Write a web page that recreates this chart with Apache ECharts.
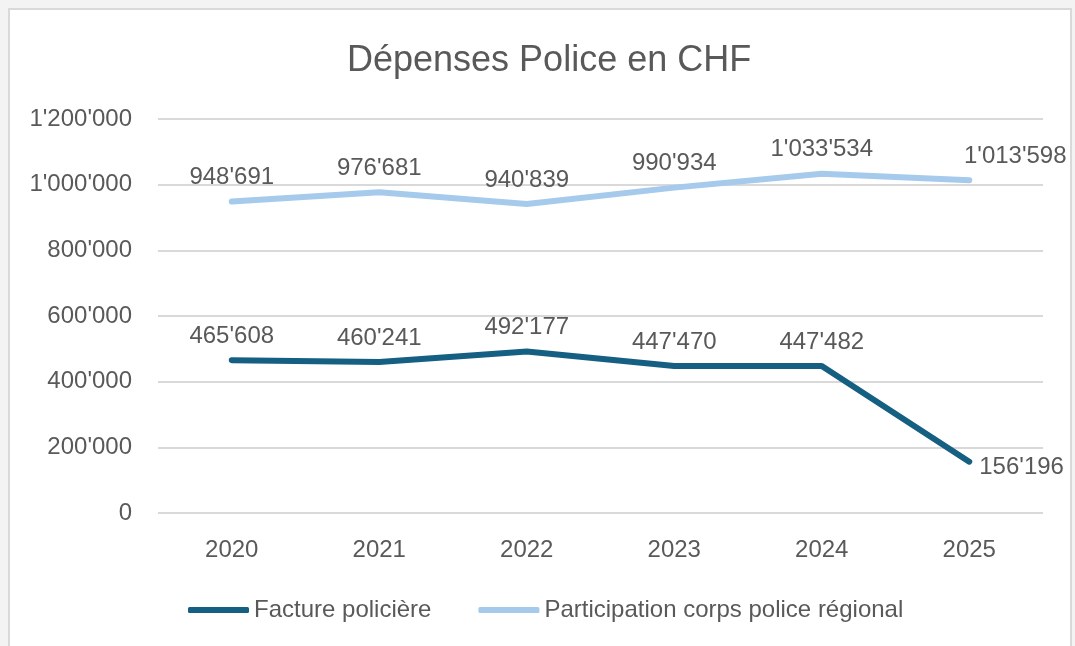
<!DOCTYPE html>
<html>
<head>
<meta charset="utf-8">
<script src="https://cdn.jsdelivr.net/npm/echarts@6/dist/echarts.min.js"></script>
<style>
  html, body { margin: 0; padding: 0; background: #f3f3f3; }
  #frame {
    position: absolute; left: 8px; top: 8px;
    width: 1060px; height: 660px;
    background: #ffffff; border: 2px solid #d9d9d9;
  }
  #chart { position: absolute; left: 0; top: 0; width: 1075px; height: 646px; }
</style>
</head>
<body>
<div id="frame"></div>
<div id="chart"></div>
<script>
// données
const years = ['2020', '2021', '2022', '2023', '2024', '2025'];
const facture = [465608, 460241, 492177, 447470, 447482, 156196];
const participation = [948691, 976681, 940839, 990934, 1033534, 1013598];
const seriesNames = ['Facture policière', 'Participation corps police régional'];

const textColor = '#595959';
const fontFamily = '"Liberation Sans", Arial, sans-serif';

// séparateur de milliers suisse
function fmt(v) {
  return String(v).replace(/\B(?=(\d{3})+(?!\d))/g, "'");
}

const chart = echarts.init(document.getElementById('chart'), null, { renderer: 'canvas' });

function lineSeries(name, values, color, lastLabel) {
  return {
    name: name,
    type: 'line',
    data: values.map((v, i) => {
      if (i === values.length - 1 && lastLabel) {
        return { value: v, label: lastLabel };
      }
      return v;
    }),
    symbol: 'circle',
    symbolSize: 2,
    itemStyle: { color: color },
    lineStyle: { color: color, width: 6, cap: 'round', join: 'round' },
    label: {
      show: true,
      position: 'top',
      distance: 11,
      color: textColor,
      fontSize: 24,
      fontFamily: fontFamily,
      formatter: p => fmt(p.value)
    },
    emphasis: { disabled: true },
    animation: false
  };
}

const option = {
  backgroundColor: 'transparent',
  title: {
    text: 'Dépenses Police en CHF',
    left: 342,
    top: 38,
    textStyle: { color: textColor, fontSize: 36, fontWeight: 'normal', fontFamily: fontFamily }
  },
  legend: {
    left: 183,
    top: 593,
    itemWidth: 61,
    itemHeight: 6,
    itemGap: 47,
    icon: 'roundRect',
    textStyle: { color: textColor, fontSize: 24, fontFamily: fontFamily },
    data: seriesNames
  },
  grid: { left: 158, right: 32, top: 119, bottom: 133 },
  xAxis: {
    type: 'category',
    data: years,
    boundaryGap: true,
    axisLine: { show: false },
    axisTick: { show: false },
    axisLabel: { color: textColor, fontSize: 24, fontFamily: fontFamily, margin: 25 }
  },
  yAxis: {
    type: 'value',
    min: 0,
    max: 1200000,
    interval: 200000,
    axisLine: { show: false },
    axisTick: { show: false },
    axisLabel: { color: textColor, fontSize: 24, fontFamily: fontFamily, margin: 26, formatter: v => fmt(v) },
    splitLine: { lineStyle: { color: '#d9d9d9', width: 2 } }
  },
  series: [
    lineSeries(seriesNames[0], facture, '#156082', {
      show: true, position: 'right', distance: 9, offset: [0, 6],
      color: textColor, fontSize: 24, fontFamily: fontFamily, formatter: p => fmt(p.value)
    }),
    lineSeries(seriesNames[1], participation, '#a6caec', {
      show: true, position: 'top', distance: 11, offset: [46, 0],
      color: textColor, fontSize: 24, fontFamily: fontFamily, formatter: p => fmt(p.value)
    })
  ]
};

chart.setOption(option);
window.addEventListener('resize', () => chart.resize());
</script>
</body>
</html>
